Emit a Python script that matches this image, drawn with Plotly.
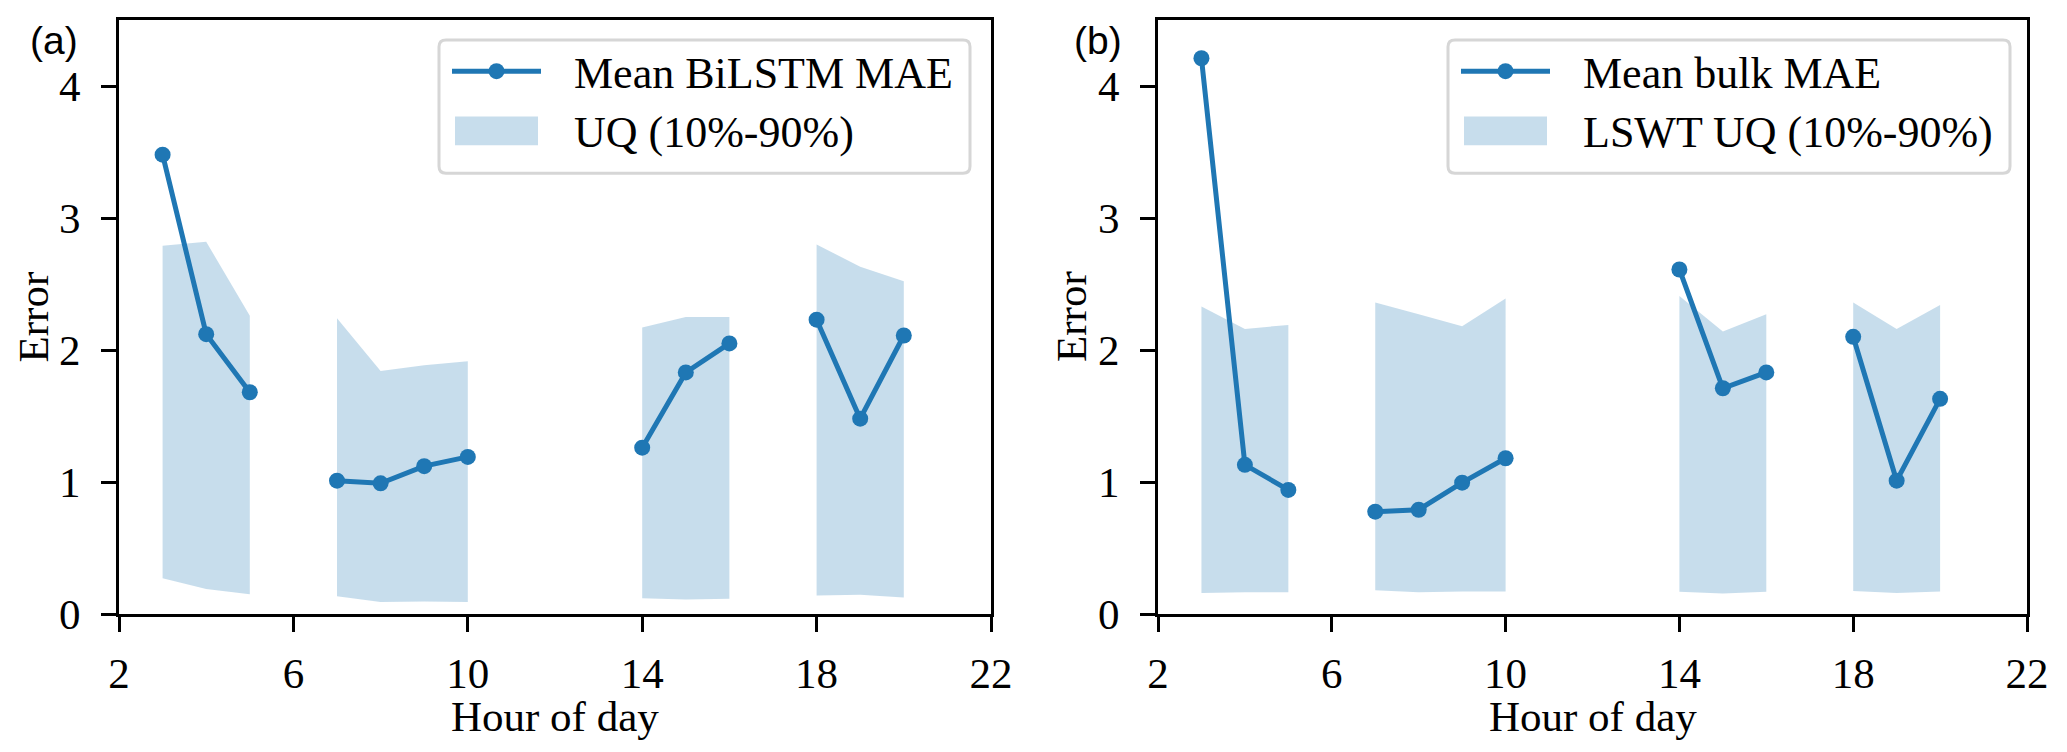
import plotly.graph_objects as go
from plotly.subplots import make_subplots

hours = [3, 4, 5, 7, 8, 9, 10, 14, 15, 16, 18, 19, 20]

bilstm_mean = [3.48, 2.12, 1.68, 1.01, 0.99, 1.12, 1.19, 1.26, 1.83, 2.05, 2.23, 1.48, 2.11]
bilstm_hi = [2.79, 2.82, 2.26, 2.24, 1.84, 1.885, 1.915, 2.17, 2.25, 2.25, 2.80, 2.63, 2.52]
bilstm_lo = [0.27, 0.19, 0.15, 0.135, 0.09, 0.095, 0.09, 0.12, 0.11, 0.115, 0.14, 0.145, 0.125]

bulk_mean = [4.21, 1.13, 0.94, 0.775, 0.79, 0.995, 1.18, 2.61, 1.71, 1.83, 2.10, 1.01, 1.63]
bulk_hi = [2.33, 2.16, 2.19, 2.36, 2.27, 2.18, 2.39, 2.41, 2.14, 2.27, 2.36, 2.16, 2.34]
bulk_lo = [0.16, 0.165, 0.165, 0.18, 0.165, 0.17, 0.17, 0.168, 0.155, 0.168, 0.175, 0.16, 0.17]

x_ticks = [2, 6, 10, 14, 18, 22]
y_ticks = [0, 1, 2, 3, 4]

BLUE = "#1f77b4"
BAND = "rgba(31,119,180,0.25)"
SERIF = "Liberation Serif"
FS = 43

# plot area in page pixels (page body has an 8px margin)
PL, PR, PT, PB = 119, 2027, 17, 614
OFF = 8


def px(x):
    return (x - PL) / (PR - PL)


def py(y):
    return (PB - y) / (PB - PT)


def segments(xs):
    # split the hours where there is a gap of more than one hour
    segs, cur = [], [0]
    for i in range(1, len(xs)):
        if xs[i] - xs[i - 1] > 1:
            segs.append(cur)
            cur = []
        cur.append(i)
    segs.append(cur)
    return segs


def with_gaps(xs, ys):
    ox, oy = [], []
    for s in segments(xs):
        ox += [xs[i] for i in s] + [None]
        oy += [ys[i] for i in s] + [None]
    return ox, oy


def band_poly(xs, lo, hi):
    ox, oy = [], []
    for s in segments(xs):
        ox += [xs[i] for i in s] + [xs[i] for i in reversed(s)] + [None]
        oy += [hi[i] for i in s] + [lo[i] for i in reversed(s)] + [None]
    return ox, oy


fig = make_subplots(rows=1, cols=2)

panels = [
    (1, bilstm_mean, bilstm_lo, bilstm_hi),
    (2, bulk_mean, bulk_lo, bulk_hi),
]

for col, mean, lo, hi in panels:
    bx, by = band_poly(hours, lo, hi)
    fig.add_trace(go.Scatter(x=bx, y=by, fill="toself", fillcolor=BAND, mode="none",
                             showlegend=False, hoverinfo="skip"), row=1, col=col)
    mx, my = with_gaps(hours, mean)
    fig.add_trace(go.Scatter(x=mx, y=my, mode="lines+markers", showlegend=False,
                             line=dict(color=BLUE, width=5),
                             marker=dict(color=BLUE, size=16)), row=1, col=col)

axis_common = dict(showline=True, mirror=True, linecolor="black", linewidth=3,
                   ticks="outside", ticklen=15, tickwidth=3, tickcolor="black",
                   showgrid=False, zeroline=False,
                   tickfont=dict(family=SERIF, size=FS, color="black"))

for col in (1, 2):
    fig.update_xaxes(range=[2, 22], tickvals=x_ticks, ticklabelstandoff=4,
                     row=1, col=col, **axis_common)
    fig.update_yaxes(range=[0, 4.5], tickvals=y_ticks, ticklabelstandoff=12,
                     row=1, col=col, **axis_common)

fig.update_xaxes(domain=[0, px(991)], row=1, col=1)
fig.update_xaxes(domain=[px(1158), 1], row=1, col=2)

annotations = []
shapes = []

# axis titles and panel letters
for cx, ex, letter, lx in [((119 + 991) / 2, 32.5, "(a)", 54), ((1158 + 2027) / 2, 1071, "(b)", 1098)]:
    annotations.append(dict(text="Hour of day", xref="paper", yref="paper", x=px(cx), y=py(717),
                            xanchor="center", yanchor="middle", showarrow=False,
                            font=dict(family=SERIF, size=FS, color="black")))
    annotations.append(dict(text="Error", xref="paper", yref="paper", x=px(ex), y=0.5,
                            xanchor="center", yanchor="middle", showarrow=False, textangle=-90,
                            font=dict(family=SERIF, size=FS, color="black")))
    annotations.append(dict(text=letter, xref="paper", yref="paper", x=px(lx), y=py(38),
                            xanchor="center", yanchor="middle", showarrow=False,
                            font=dict(family="Liberation Sans", size=39, color="black")))

# legends drawn by hand to get matplotlib-like boxes
legends = [
    (439, 970, "Mean BiLSTM MAE", "UQ (10%-90%)"),
    (1448, 2010, "Mean bulk MAE", "LSWT UQ (10%-90%)"),
]
top, bot, r = 37, 171, 7
row1, row2 = 68.5, 128.5
for x0, x1, t1, t2 in legends:
    rx, ry = r / (PR - PL), r / (PB - PT)
    X0, X1, Y0, Y1 = px(x0), px(x1), py(bot), py(top)
    path = (f"M{X0 + rx},{Y0} L{X1 - rx},{Y0} Q{X1},{Y0} {X1},{Y0 + ry} "
            f"L{X1},{Y1 - ry} Q{X1},{Y1} {X1 - rx},{Y1} L{X0 + rx},{Y1} "
            f"Q{X0},{Y1} {X0},{Y1 - ry} L{X0},{Y0 + ry} Q{X0},{Y0} {X0 + rx},{Y0} Z")
    shapes.append(dict(type="path", path=path, xref="paper", yref="paper",
                       fillcolor="rgba(255,255,255,0.8)", line=dict(color="#d6d6d6", width=3)))
    shapes.append(dict(type="line", xref="paper", yref="paper", x0=px(x0 + 13), x1=px(x0 + 102),
                       y0=py(row1), y1=py(row1), line=dict(color=BLUE, width=5)))
    mxc = x0 + 57.5
    shapes.append(dict(type="circle", xref="paper", yref="paper", x0=px(mxc - 8), x1=px(mxc + 8),
                       y0=py(row1 + 8), y1=py(row1 - 8), fillcolor=BLUE, line=dict(width=0)))
    shapes.append(dict(type="rect", xref="paper", yref="paper", x0=px(x0 + 16), x1=px(x0 + 99),
                       y0=py(143), y1=py(114), fillcolor=BAND, line=dict(width=0)))
    for txt, yy in [(t1, row1), (t2, row2)]:
        annotations.append(dict(text=txt, xref="paper", yref="paper", x=px(x0 + 133), y=py(yy + 2),
                                xanchor="left", yanchor="middle", showarrow=False,
                                font=dict(family=SERIF, size=FS + 1, color="black")))

fig.update_layout(
    width=2067 - OFF, height=752 - OFF, autosize=False,
    margin=dict(l=PL - OFF, r=2067 - PR, t=PT - OFF, b=752 - PB),
    plot_bgcolor="white", paper_bgcolor="white",
    showlegend=False,
    annotations=annotations,
    shapes=shapes,
)

fig.write_html("out.html")
